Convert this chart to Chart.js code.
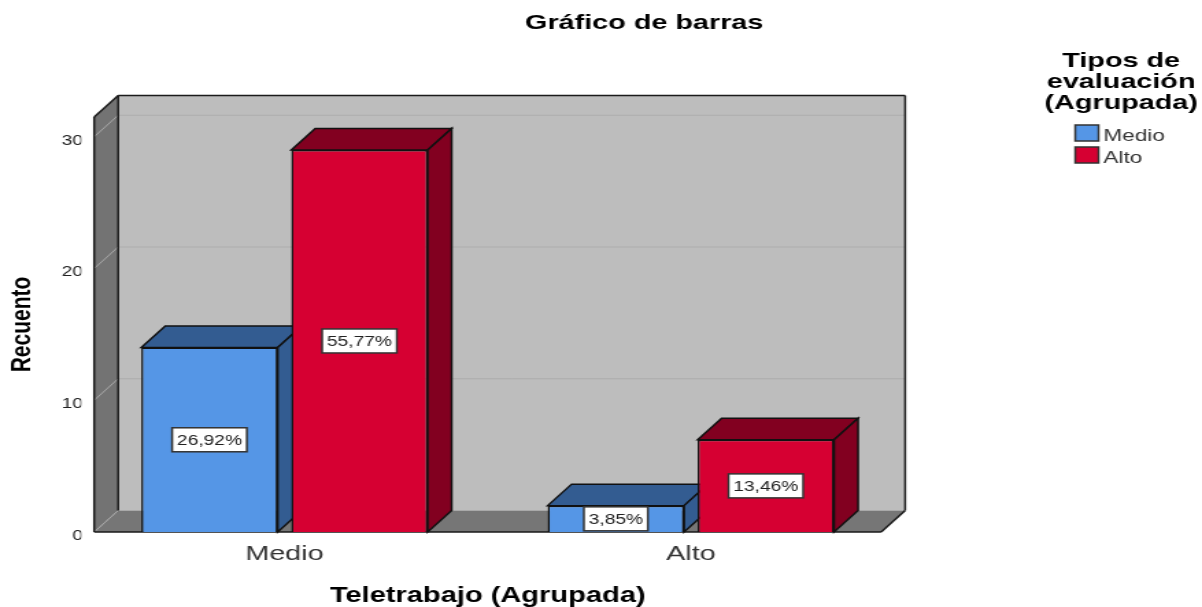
<!DOCTYPE html>
<html lang="es">
  <head>
    <meta charset="UTF-8" />
    <title>Gráfico de barras</title>
    <script src="https://cdn.jsdelivr.net/npm/chart.js"></script>
    <style>
      html, body { margin: 0; background: #fff; overflow: hidden; width: 1202px; height: 607px; }
      /* the original picture is stretched sideways, so the whole canvas is too */
      #chart { display: block; transform: scaleX(1.3706); transform-origin: 0 0; }
    </style>
  </head>
  <body>
    <canvas id="chart" width="877" height="607"></canvas>
    <script>
      const categories = ["Medio", "Alto"];
      const medioCounts = [14, 2];
      const altoCounts = [29, 7];
      const medioPct = ["26,92%", "3,85%"];
      const altoPct = ["55,77%", "13,46%"];
      const chartTitle = "Gráfico de barras";
      const legendTitle = ["Tipos de", "evaluación", "(Agrupada)"];

      const FONT = "'Liberation Sans', Arial, sans-serif";
      const DEPTH_X = 17.5;
      const DEPTH_Y = 21.5;
      const INSET = 9.4; // frame starts a little inside the category band

      const BLUE = "#5596e6";
      const BLUE_DARK = "#335c91";
      const RED = "#d60032";
      const RED_DARK = "#820020";

      function poly(ctx, pts, fill, stroke, lw) {
        ctx.beginPath();
        pts.forEach((p, i) => (i ? ctx.lineTo(p[0], p[1]) : ctx.moveTo(p[0], p[1])));
        ctx.closePath();
        if (fill) {
          ctx.fillStyle = fill;
          ctx.fill();
        }
        if (stroke) {
          ctx.strokeStyle = stroke;
          ctx.lineWidth = lw || 1.5;
          ctx.stroke();
        }
      }

      function line(ctx, x1, y1, x2, y2, color, lw) {
        ctx.beginPath();
        ctx.moveTo(x1, y1);
        ctx.lineTo(x2, y2);
        ctx.strokeStyle = color;
        ctx.lineWidth = lw;
        ctx.stroke();
      }

      function drawFrame(chart) {
        const ctx = chart.ctx;
        const a = chart.chartArea;
        const fl = a.left + INSET;
        const fr = a.right - INSET;
        const bl = fl + DEPTH_X;
        const br = fr + DEPTH_X;
        const top = a.top;
        const bot = a.bottom;
        const backTop = top - DEPTH_Y;
        const backBot = bot - DEPTH_Y;

        poly(ctx, [[bl, backTop], [br, backTop], [br, backBot], [bl, backBot]], "#bdbdbd");
        poly(ctx, [[fl, top], [bl, backTop], [bl, backBot], [fl, bot]], "#737373");
        poly(ctx, [[fl, bot], [fr, bot], [br, backBot], [bl, backBot]], "#767676");

        chart.scales.y.ticks.forEach((t) => {
          if (t.value === 0) return;
          const y = chart.scales.y.getPixelForValue(t.value);
          line(ctx, fl, y, bl, y - DEPTH_Y, "#a8a8a8", 1);
          line(ctx, bl, y - DEPTH_Y, br, y - DEPTH_Y, "#adadad", 1);
        });
        line(ctx, fl, bot, bl, backBot, "#a8a8a8", 1);

        const dark = "#1a1a1a";
        line(ctx, fl, top, fl, bot, dark, 1.5);
        line(ctx, fl, top, bl, backTop, dark, 1.5);
        line(ctx, bl, backTop, br, backTop, dark, 1.5);
        line(ctx, bl, backTop, bl, backBot, dark, 1.5);
        line(ctx, br, backTop, br, backBot, dark, 1.5);
        line(ctx, br, backBot, fr, bot, dark, 1.5);
        line(ctx, fl, bot, fr, bot, dark, 1.5);
      }

      function drawBarFaces(chart) {
        const ctx = chart.ctx;
        const darks = [BLUE_DARK, RED_DARK];
        chart.data.datasets.forEach((ds, i) => {
          chart.getDatasetMeta(i).data.forEach((bar) => {
            const l = bar.x - bar.width / 2;
            const r = bar.x + bar.width / 2;
            poly(ctx, [[l, bar.y], [r, bar.y], [r + DEPTH_X, bar.y - DEPTH_Y], [l + DEPTH_X, bar.y - DEPTH_Y]], darks[i], "#111", 1.5);
            poly(ctx, [[r, bar.y], [r + DEPTH_X, bar.y - DEPTH_Y], [r + DEPTH_X, bar.base - DEPTH_Y], [r, bar.base]], darks[i], "#111", 1.5);
          });
        });
      }

      function drawPctBoxes(chart) {
        const ctx = chart.ctx;
        const pcts = [medioPct, altoPct];
        ctx.save();
        ctx.font = "14px " + FONT;
        ctx.textAlign = "center";
        ctx.textBaseline = "middle";
        chart.data.datasets.forEach((ds, i) => {
          chart.getDatasetMeta(i).data.forEach((bar, j) => {
            const cy = (bar.y + bar.base) / 2;
            const w = ctx.measureText(pcts[i][j]).width + 7;
            ctx.fillStyle = "#fff";
            ctx.fillRect(bar.x - w / 2, cy - 12, w, 24);
            ctx.strokeStyle = "#333";
            ctx.lineWidth = 1.5;
            ctx.strokeRect(bar.x - w / 2, cy - 12, w, 24);
            ctx.fillStyle = "#222";
            ctx.fillText(pcts[i][j], bar.x, cy + 1);
          });
        });
        ctx.restore();
      }

      // title sits off-centre in the original and the legend is a hand-placed block
      function drawTitleAndLegend(chart) {
        const ctx = chart.ctx;
        ctx.save();
        ctx.textAlign = "center";
        ctx.textBaseline = "middle";
        ctx.fillStyle = "#000";
        ctx.font = "bold 21px " + FONT;
        ctx.fillText(chartTitle, 470, 23);
        legendTitle.forEach((txt, i) => ctx.fillText(txt, 818, 61 + i * 21));

        ctx.textAlign = "left";
        ctx.font = "16.5px " + FONT;
        chart.data.datasets.forEach((ds, i) => {
          const y = 125 + i * 22;
          ctx.fillStyle = ds.backgroundColor;
          ctx.fillRect(784.5, y, 17, 16);
          ctx.strokeStyle = "#333";
          ctx.lineWidth = 1.5;
          ctx.strokeRect(784.5, y, 17, 16);
          ctx.fillStyle = "#333";
          ctx.fillText(ds.label, 805, y + 11);
        });
        ctx.restore();
      }

      const box3d = {
        id: "box3d",
        beforeDatasetsDraw(chart) {
          drawFrame(chart);
          drawBarFaces(chart);
        },
        afterDatasetsDraw(chart) {
          drawPctBoxes(chart);
          drawTitleAndLegend(chart);
        },
      };

      new Chart(document.getElementById("chart"), {
        type: "bar",
        data: {
          labels: categories,
          datasets: [
            { label: "Medio", data: medioCounts, backgroundColor: BLUE },
            { label: "Alto", data: altoCounts, backgroundColor: RED },
          ],
        },
        plugins: [box3d],
        options: {
          responsive: false,
          devicePixelRatio: 1,
          animation: false,
          layout: { autoPadding: false, padding: { left: 0, top: 117, bottom: 0, right: 224.7 } },
          datasets: {
            bar: { categoryPercentage: 0.738, barPercentage: 0.91, borderColor: "#111", borderWidth: 1.5 },
          },
          plugins: {
            legend: { display: false },
            tooltip: { enabled: false },
          },
          scales: {
            x: {
              grid: { display: false, drawTicks: false },
              border: { display: false },
              afterFit: (s) => { s.height = 75; },
              ticks: { color: "#333", padding: 10, font: { family: FONT, size: 21 } },
              title: {
                display: true,
                text: "Teletrabajo (Agrupada)",
                color: "#000",
                font: { family: FONT, size: 21.2, weight: "bold" },
                padding: { top: 0, bottom: -2 },
              },
            },
            y: {
              min: 0,
              max: 31.5,
              grid: { display: false, drawTicks: false },
              border: { display: false },
              afterFit: (s) => { s.width = 59.3; },
              ticks: {
                stepSize: 10,
                includeBounds: false,
                color: "#222",
                padding: -1.2,
                labelOffset: 4,
                font: { family: FONT, size: 14 },
              },
              title: {
                display: true,
                text: "Recuento",
                color: "#000",
                font: { family: FONT, size: 21, weight: "bold" },
                padding: { top: 3.4, bottom: 0 },
              },
            },
          },
        },
      });
    </script>
  </body>
</html>
